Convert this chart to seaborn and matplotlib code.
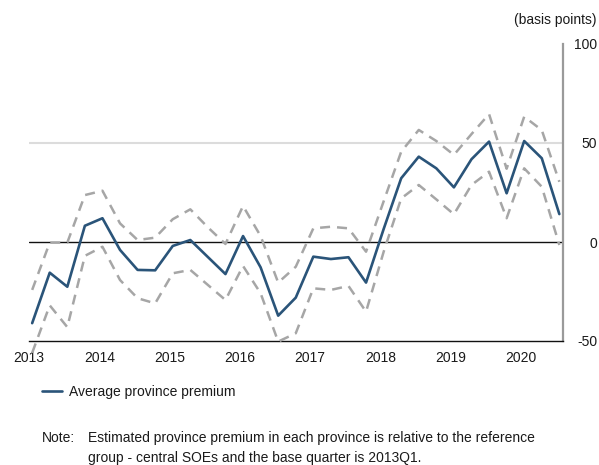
import matplotlib
matplotlib.use("Agg")
import matplotlib.pyplot as plt
from matplotlib.lines import Line2D
import numpy as np
import pandas as pd
import seaborn as sns

# Quarterly estimates, 2013Q1 to 2020Q3 (basis points)
quarters = [f"{y}Q{q}" for y in range(2013, 2021) for q in range(1, 5)][:31]

average_premium = [
    -41.0, -15.5, -22.6, 8.2,
    12.0, -4.0, -14.1, -14.3,
    -2.0, 1.0, -7.6, -16.2,
    3.0, -12.8, -37.2, -28.1,
    -7.4, -8.6, -7.7, -20.5,
    6.5, 32.2, 43.1, 37.2,
    27.6, 41.8, 50.7, 24.6,
    51.0, 42.3, 14.1,
]
upper_band = [
    -24.2, -0.3, -0.3, 23.7,
    25.9, 9.4, 1.0, 2.2,
    11.5, 16.5, 7.4, -1.0,
    18.2, 3.0, -20.5, -12.5,
    6.9, 7.7, 6.9, -4.9,
    20.5, 45.6, 56.6, 51.0,
    44.0, 54.5, 64.6, 37.0,
    63.3, 56.5, 30.4,
]
lower_band = [
    -56.0, -32.0, -43.0, -7.0,
    -2.4, -19.2, -28.4, -31.0,
    -15.8, -14.1, -21.7, -29.3,
    -12.1, -25.9, -50.3, -46.1,
    -23.4, -24.2, -22.2, -35.2,
    -5.0, 22.0, 28.8, 21.5,
    14.0, 28.8, 35.5, 12.0,
    37.2, 27.9, -1.5,
]

year_ticks = list(range(2013, 2021))
y_ticks = [-50, 0, 50, 100]
y_tick_labels = ["-50", "0", "50", "100"]


def quarter_position(label):
    year, q = label.split("Q")
    return int(year) + (int(q) - 1) / 4 + 0.045


df = pd.DataFrame({
    "t": [quarter_position(q) for q in quarters],
    "average": average_premium,
    "upper": upper_band,
    "lower": lower_band,
})

sns.set_style("white")
plt.rcParams["font.family"] = ["Liberation Sans", "DejaVu Sans"]
plt.rcParams["font.size"] = 10

TEXT = "#1a1a1a"
BLUE = "#2a5479"
GREY = "#a6a6a6"

fig = plt.figure(figsize=(5.99, 4.65), dpi=100)
ax = fig.add_axes([29 / 599, 1 - 341 / 465, (563 - 29) / 599, (341 - 44) / 465])

# reference lines
ax.axhline(50, color="#dcdcdc", lw=1.5, zorder=1)
ax.axhline(0, color="#111111", lw=1.0, zorder=2)

dash = (0, (4.0, 2.8))
sns.lineplot(data=df, x="t", y="upper", ax=ax, color=GREY, lw=1.8,
             linestyle=dash, zorder=3, legend=False)
sns.lineplot(data=df, x="t", y="lower", ax=ax, color=GREY, lw=1.8,
             linestyle=dash, zorder=3, legend=False, clip_on=False)
sns.lineplot(data=df, x="t", y="average", ax=ax, color=BLUE, lw=1.9,
             zorder=4, legend=False)

ax.set_xlim(2013, 2020.597)
ax.set_ylim(-50, 100)
ax.set_xlabel("")
ax.set_ylabel("")

ax.set_xticks(year_ticks)
ax.set_xticklabels([str(y) for y in year_ticks], color=TEXT, fontsize=10)
ax.tick_params(axis="x", direction="in", length=7, width=1, color="#111111", pad=7)

ax.yaxis.tick_right()
ax.set_yticks(y_ticks)
ax.set_yticklabels(y_tick_labels, color=TEXT, fontsize=10)
ax.tick_params(axis="y", length=0, pad=24.5)
for lbl in ax.get_yticklabels():
    lbl.set_horizontalalignment("right")

for side in ("top", "left"):
    ax.spines[side].set_visible(False)
ax.spines["bottom"].set_color("#111111")
ax.spines["bottom"].set_linewidth(1.0)
ax.spines["right"].set_color("#9a9a9a")
ax.spines["right"].set_linewidth(1.6)

fig.text(597 / 599, 1 - 20 / 465, "(basis points)", ha="right", va="center",
         color=TEXT, fontsize=10)

fig.legend(handles=[Line2D([0], [0], color=BLUE, lw=1.9)],
           labels=["Average province premium"],
           loc="center left", bbox_to_anchor=(42 / 599, 1 - 392 / 465),
           frameon=False, borderpad=0, borderaxespad=0,
           handlelength=1.45, handletextpad=0.5, fontsize=10,
           labelcolor=TEXT)

fig.text(42 / 599, 1 - 438 / 465, "Note:", ha="left", va="center",
         color=TEXT, fontsize=10)
fig.text(88 / 599, 1 - 438 / 465,
         "Estimated province premium in each province is relative to the reference",
         ha="left", va="center", color=TEXT, fontsize=10)
fig.text(88 / 599, 1 - 458 / 465,
         "group - central SOEs and the base quarter is 2013Q1.",
         ha="left", va="center", color=TEXT, fontsize=10)

fig.savefig("out.png", dpi=100)
